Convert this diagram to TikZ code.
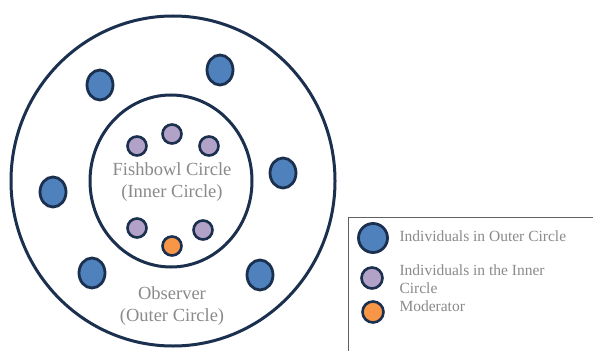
\documentclass[tikz,border=0pt]{standalone}
\usepackage{fontspec}
\setmainfont{Liberation Serif}
\definecolor{navy}{HTML}{1B2F4E}
\definecolor{dotblue}{HTML}{4F81BD}
\definecolor{dotpurple}{HTML}{B3A2C7}
\definecolor{dotorange}{HTML}{F79646}
\definecolor{txtgray}{HTML}{8A8A8A}
\definecolor{boxgray}{HTML}{606060}
\usetikzlibrary{shapes.geometric}
\tikzset{
  ring/.style={draw=navy, line width=3pt},
  bluedot/.style={ellipse, draw=navy, line width=2.8pt, fill=dotblue, minimum width=26pt, minimum height=30pt, inner sep=0pt},
  purpledot/.style={circle, draw=navy, line width=2.6pt, fill=dotpurple, minimum size=19pt, inner sep=0pt},
  orangedot/.style={circle, draw=navy, line width=2.6pt, fill=dotorange, minimum size=19pt, inner sep=0pt},
  bigtxt/.style={text=txtgray, font=\fontsize{18.5}{21.5}\selectfont, align=center},
  legtxt/.style={text=txtgray, font=\fontsize{15.5}{18}\selectfont, align=left, anchor=west},
}
\begin{document}
\begin{tikzpicture}[x=1pt,y=-1pt]
\useasboundingbox (0,0) rectangle (593,350);
\fill[white] (0,0) rectangle (593,350);
% rings
\draw[ring] (173,181) ellipse [x radius=162, y radius=165];
\draw[ring] (171,181) ellipse [x radius=81, y radius=86];
% outer individuals
\node[bluedot] (o1) at (100,85) {};
\node[bluedot] (o2) at (220,70) {};
\node[bluedot] (o3) at (283,173) {};
\node[bluedot] (o4) at (53,192) {};
\node[bluedot] (o5) at (92,273) {};
\node[bluedot] (o6) at (260,275) {};
% inner individuals
\node[purpledot] (i1) at (137,146) {};
\node[purpledot] (i2) at (172,134) {};
\node[purpledot] (i3) at (209,146) {};
\node[purpledot] (i4) at (137,228) {};
\node[purpledot] (i5) at (203,230) {};
\node[orangedot] (m) at (172,246) {};
% labels
\node[bigtxt] (fish) at (172,182) {Fishbowl Circle\\(Inner Circle)};
\node[bigtxt] (obs) at (172,306) {Observer\\(Outer Circle)};
% legend
\node[draw=boxgray, line width=1.2pt, minimum width=260pt, minimum height=150pt, anchor=north west] (leg) at (348,217) {};
\node[bluedot, minimum width=29pt, minimum height=29pt] (lb) at (373,238) {};
\node[purpledot, minimum size=21pt] (lp) at (372,278) {};
\node[orangedot, minimum size=21pt] (lo) at (373,312) {};
\node[legtxt] (tb) at (396,236) {Individuals in Outer Circle};
\node[legtxt] (tp) at (396,279) {Individuals in the Inner\\Circle};
\node[legtxt] (to) at (396,306) {Moderator};
\end{tikzpicture}
\end{document}
